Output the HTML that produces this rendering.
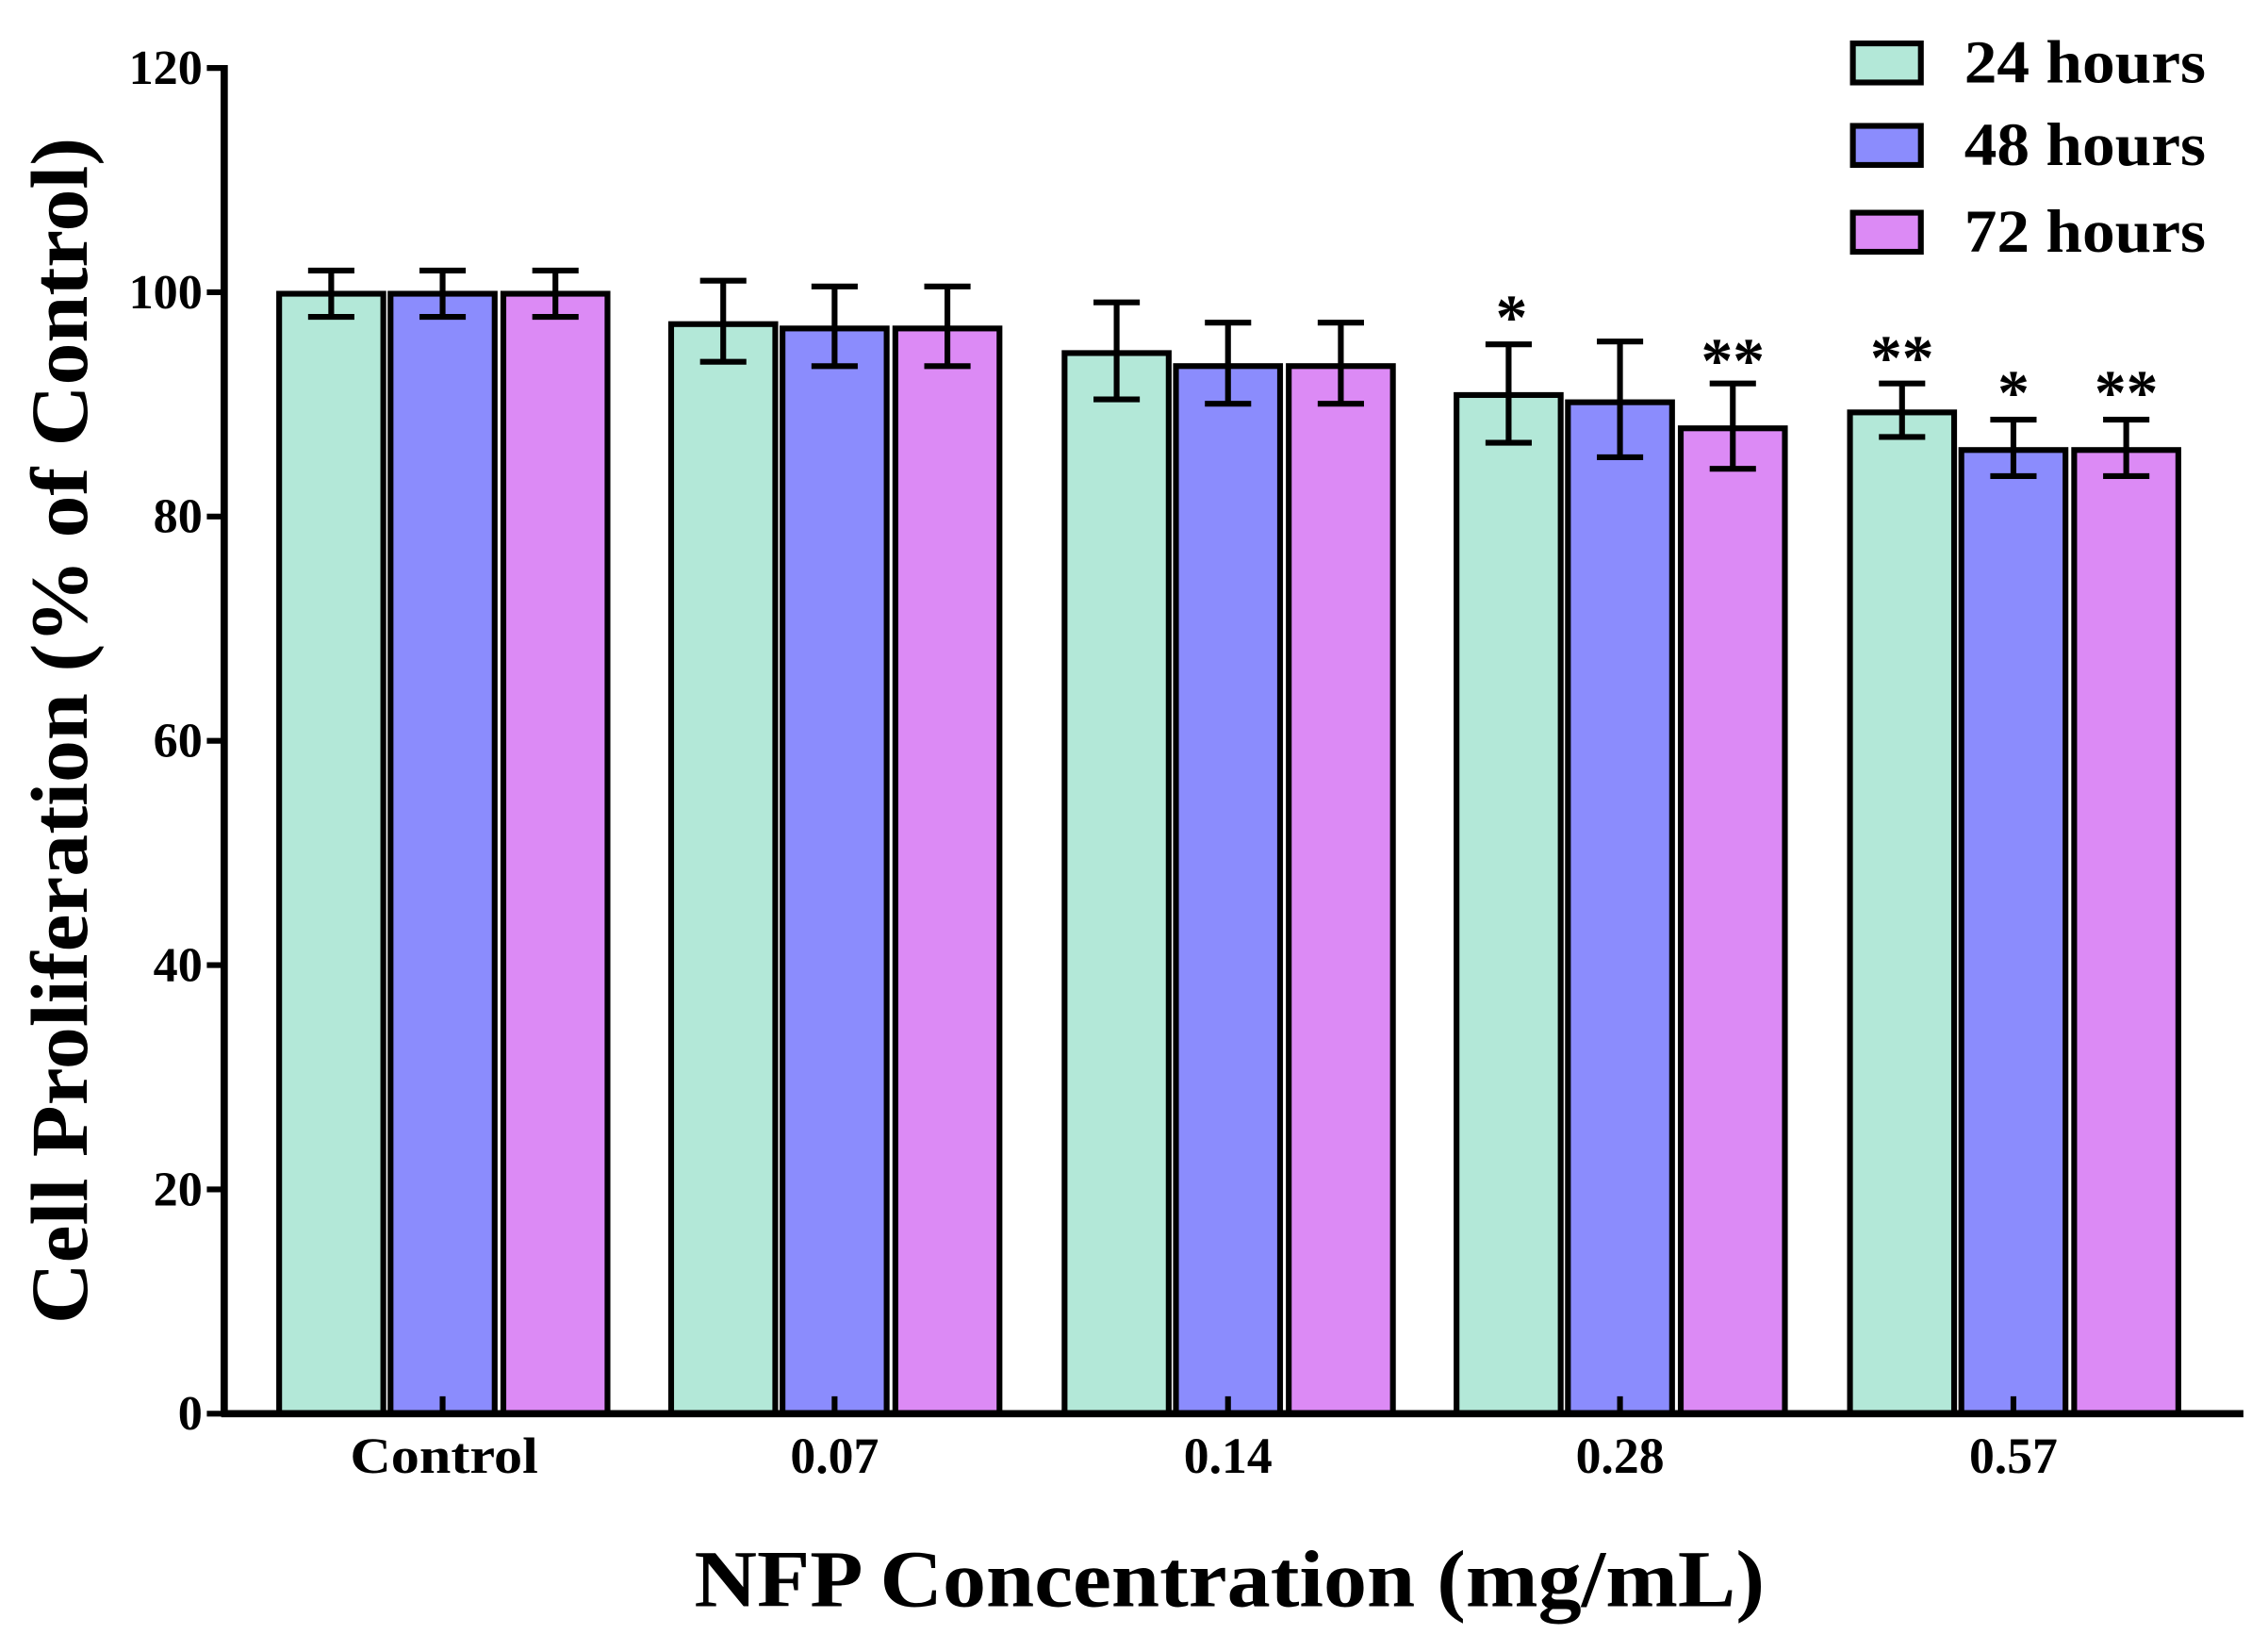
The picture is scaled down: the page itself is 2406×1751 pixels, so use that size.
<!DOCTYPE html>
<html><head><style>html,body{margin:0;padding:0;background:#fff}svg{display:block}</style></head>
<body>
<svg width="2406" height="1751" viewBox="0 0 1568 1141" preserveAspectRatio="none" xmlns="http://www.w3.org/2000/svg" font-family="Liberation Serif, serif" font-weight="bold">
<rect width="1568" height="1141" fill="#fff"/>
<g stroke="#000" stroke-width="4">
<g id="bars">
<rect x="193" y="203" width="72" height="774" fill="#b3e8d8"/>
<rect x="270" y="203" width="72" height="774" fill="#8b8cfd"/>
<rect x="348" y="203" width="72" height="774" fill="#dc8af5"/>
<rect x="464" y="224" width="72" height="753" fill="#b3e8d8"/>
<rect x="541" y="227" width="72" height="750" fill="#8b8cfd"/>
<rect x="619" y="227" width="72" height="750" fill="#dc8af5"/>
<rect x="736" y="244" width="72" height="733" fill="#b3e8d8"/>
<rect x="813" y="253" width="72" height="724" fill="#8b8cfd"/>
<rect x="891" y="253" width="72" height="724" fill="#dc8af5"/>
<rect x="1007" y="273" width="72" height="704" fill="#b3e8d8"/>
<rect x="1084" y="278" width="72" height="699" fill="#8b8cfd"/>
<rect x="1162" y="296" width="72" height="681" fill="#dc8af5"/>
<rect x="1279" y="285" width="72" height="692" fill="#b3e8d8"/>
<rect x="1356" y="311" width="72" height="666" fill="#8b8cfd"/>
<rect x="1434" y="311" width="72" height="666" fill="#dc8af5"/>
</g>
<path fill="none" d="
M229 187V219M213 187H245M213 219H245
M306 187V219M290 187H322M290 219H322
M384 187V219M368 187H400M368 219H400
M500 194V250M484 194H516M484 250H516
M577 198V253M561 198H593M561 253H593
M655 198V253M639 198H671M639 253H671
M772 209V276M756 209H788M756 276H788
M849 223V279M833 223H865M833 279H865
M927 223V279M911 223H943M911 279H943
M1043 238V306M1027 238H1059M1027 306H1059
M1120 236V316M1104 236H1136M1104 316H1136
M1198 265V324M1182 265H1214M1182 324H1214
M1315 265V302M1299 265H1331M1299 302H1331
M1392 290V329M1376 290H1408M1376 329H1408
M1470 290V329M1454 290H1486M1454 329H1486"/>
<path fill="none" stroke-width="5" d="M155 45V979M153 977H1551"/>
<path fill="none" stroke-width="4" d="M143 47H155M143 202H155M143 357H155M143 512H155M143 667H155M143 822H155M143 977H155
M306 965V977M577 965V977M849 965V977M1120 965V977M1392 965V977"/>
<rect x="1281" y="30" width="47" height="27" fill="#b3e8d8"/>
<rect x="1281" y="87" width="47" height="27" fill="#8b8cfd"/>
<rect x="1281" y="147" width="47" height="27" fill="#dc8af5"/>
</g>
<g font-size="34" text-anchor="end">
<text x="140" y="58">120</text><text x="140" y="213">100</text><text x="140" y="368">80</text>
<text x="140" y="523">60</text><text x="140" y="678">40</text><text x="140" y="833">20</text><text x="140" y="988">0</text>
</g>
<g font-size="35" text-anchor="middle" lengthAdjust="spacingAndGlyphs">
<text x="307" y="1018" textLength="130" lengthAdjust="spacingAndGlyphs">Control</text>
<text x="577" y="1018">0.07</text><text x="849" y="1018">0.14</text>
<text x="1120" y="1018">0.28</text><text x="1392" y="1018">0.57</text>
</g>
<g font-size="44" text-anchor="middle">
<text x="1045" y="234">*</text><text x="1198" y="264">**</text>
<text x="1315" y="262">**</text><text x="1392" y="286">*</text><text x="1470" y="286">**</text>
</g>
<g font-size="42">
<text x="1358" y="57" textLength="167" lengthAdjust="spacingAndGlyphs">24 hours</text>
<text x="1358" y="114" textLength="167" lengthAdjust="spacingAndGlyphs">48 hours</text>
<text x="1358" y="174" textLength="167" lengthAdjust="spacingAndGlyphs">72 hours</text>
</g>
<text x="480" y="1110" font-size="56" textLength="740" lengthAdjust="spacingAndGlyphs">NFP  Concentration (mg/mL)</text>
<text transform="translate(60 915) rotate(-90)" font-size="56" textLength="820" lengthAdjust="spacingAndGlyphs">Cell Proliferation (% of Control)</text>
</svg>
</body></html>
